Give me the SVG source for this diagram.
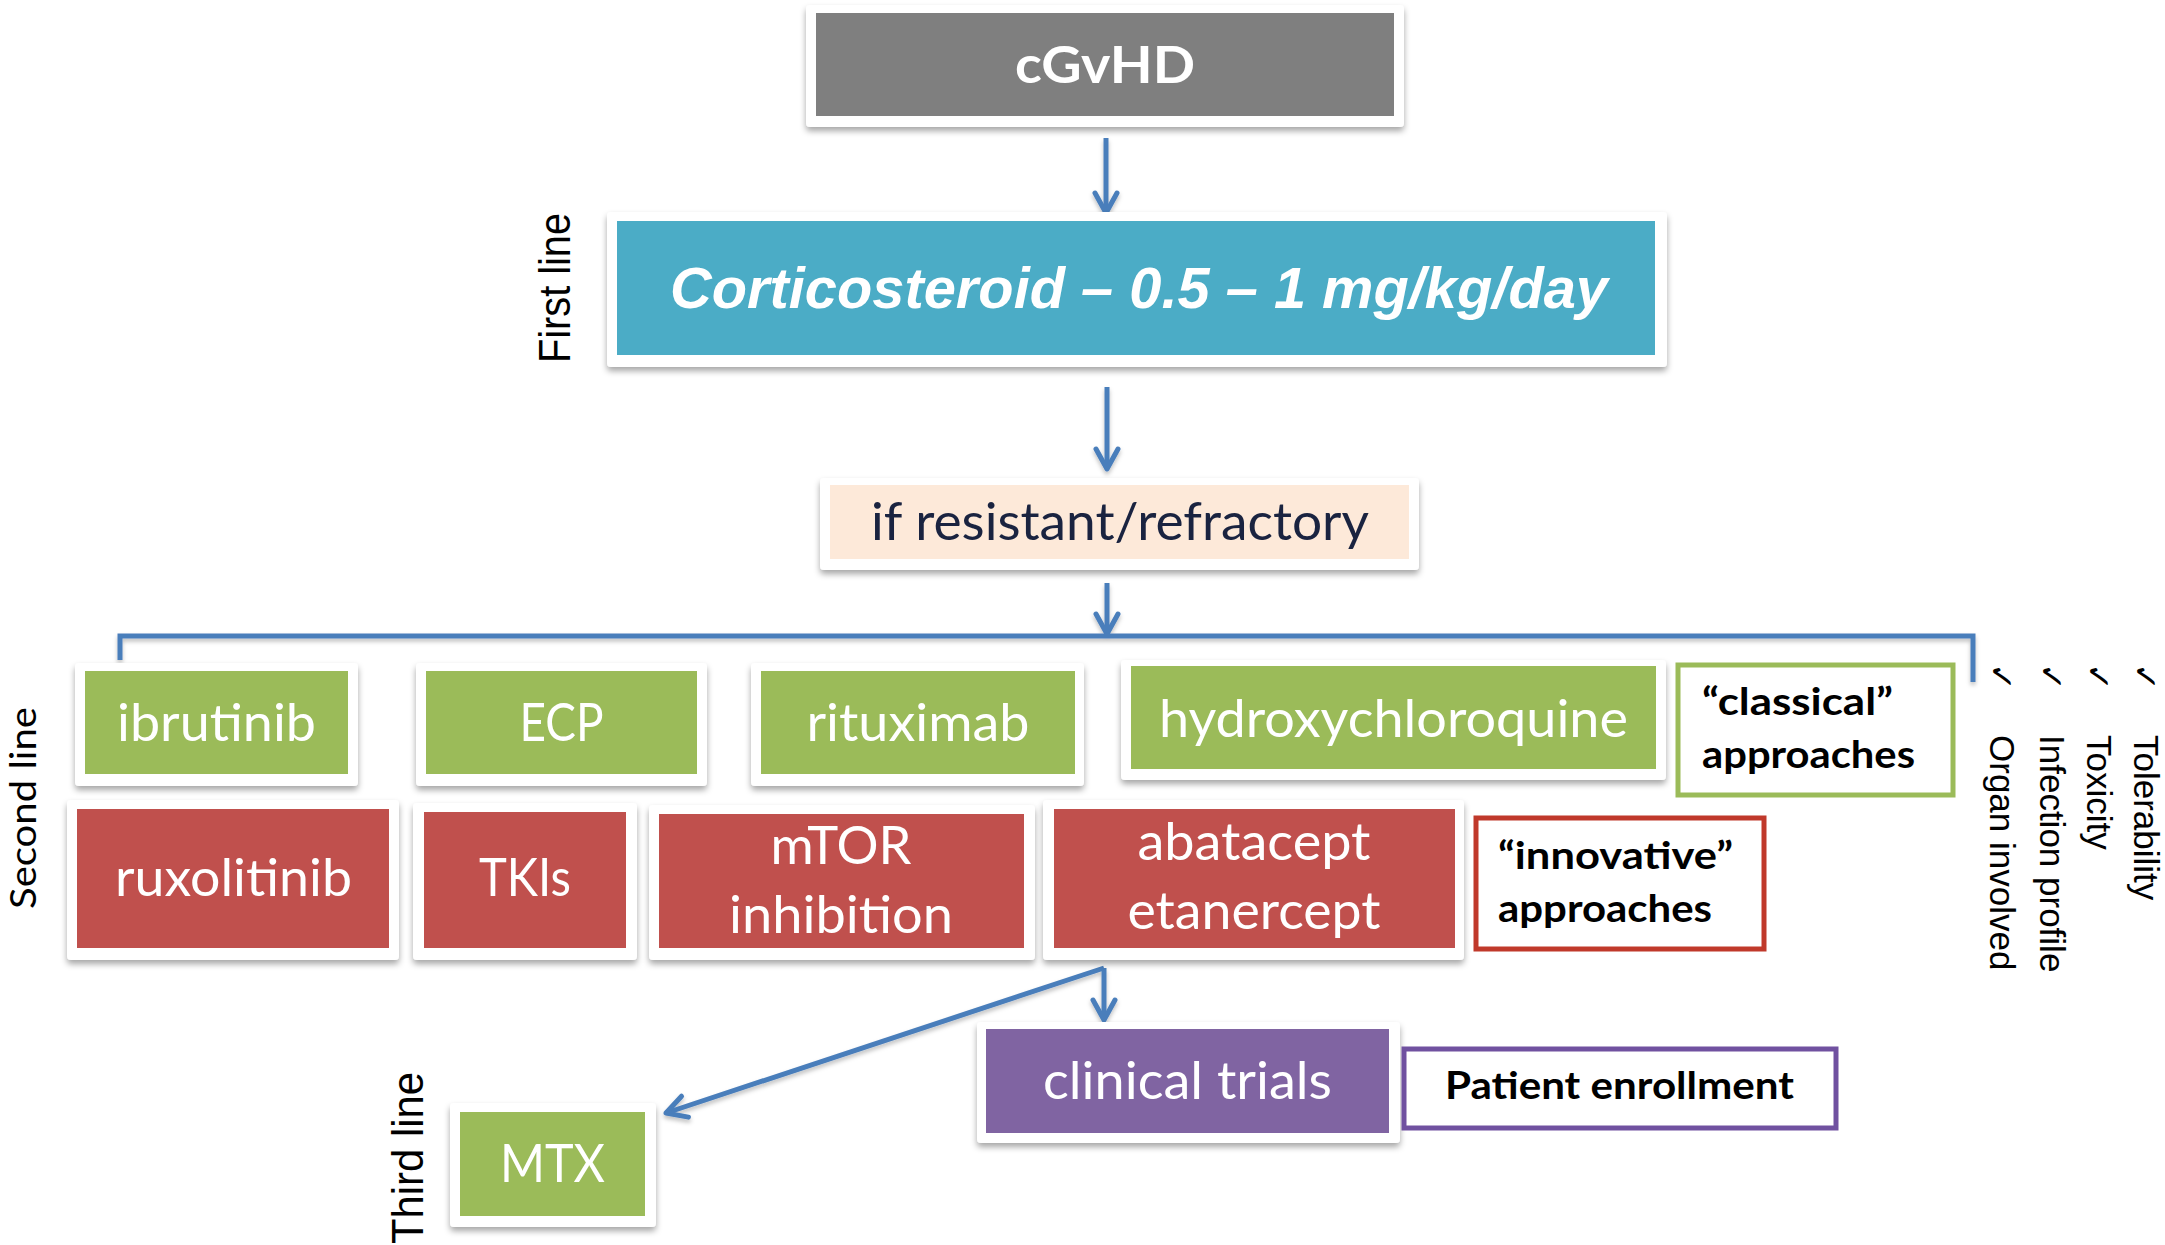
<svg xmlns="http://www.w3.org/2000/svg" width="2165" height="1245" viewBox="0 0 2165 1245">
  <defs>
    <filter id="sh" x="-5%" y="-10%" width="110%" height="130%">
      <feDropShadow dx="0" dy="4" stdDeviation="3" flood-color="#000" flood-opacity="0.35"/>
    </filter>
    <filter id="lsh" x="-5%" y="-20%" width="110%" height="160%">
      <feDropShadow dx="0" dy="3" stdDeviation="2" flood-color="#000" flood-opacity="0.25"/>
    </filter>
    <marker id="ah" markerUnits="userSpaceOnUse" viewBox="0 0 30 30" refX="27" refY="15" markerWidth="30" markerHeight="30" orient="auto">
      <path d="M7,4 L27,15 L7,26" fill="none" stroke="#4a7ebb" stroke-width="5" stroke-linecap="round" stroke-linejoin="round"/>
    </marker>
    <style>
      .card { fill: #ffffff; filter: url(#sh); }
      .gray { fill: #7f7f7f; }
      .blue { fill: #4bacc6; }
      .peach { fill: #fde9d9; }
      .green { fill: #9bbb59; }
      .red { fill: #c0504d; }
      .purple { fill: #8064a2; }
      .t { font-family: Lato, "Open Sans", "Liberation Sans", sans-serif; fill: #ffffff; text-anchor: middle; font-size: 52px; }
      .lbl { font-family: Lato, "Open Sans", "Liberation Sans", sans-serif; fill: #000000; font-weight: bold; font-size: 38px; }
      .side { font-family: "Liberation Sans", Arial, sans-serif; fill: #000000; text-anchor: middle; font-size: 44px; }
      .crit { font-family: "Liberation Sans", Arial, sans-serif; fill: #000000; font-size: 35px; }
      .chk { font-family: "DejaVu Sans", sans-serif; fill: #000000; font-size: 33px; }
      .conn { fill: none; stroke: #4a7ebb; stroke-width: 5; }
    </style>
  </defs>

  <g id="connectors" filter="url(#lsh)">
    <line class="conn" x1="1106" y1="138" x2="1106" y2="213" marker-end="url(#ah)"/>
    <line class="conn" x1="1107" y1="387" x2="1107" y2="469" marker-end="url(#ah)"/>
    <line class="conn" x1="1107" y1="583" x2="1107" y2="634" marker-end="url(#ah)"/>
    <path class="conn" d="M120,660 L120,636 L1973,636 L1973,682"/>
    <line class="conn" x1="1104" y1="968" x2="1104" y2="1020" marker-end="url(#ah)"/>
    <line class="conn" x1="1104" y1="968" x2="666" y2="1113" marker-end="url(#ah)"/>
  </g>

  <g id="node-cgvhd">
    <rect class="card" x="806" y="5" width="598" height="122" rx="4"/>
    <rect class="gray" x="816" y="13" width="578" height="103"/>
    <text class="t" x="1105" y="83" font-weight="bold" font-size="47" textLength="180" lengthAdjust="spacingAndGlyphs">cGvHD</text>
  </g>

  <g id="node-corticosteroid">
    <rect class="card" x="607" y="212" width="1060" height="155" rx="4"/>
    <rect class="blue" x="617" y="221" width="1038" height="134"/>
    <text x="1139" y="308" font-family="'Liberation Sans', Arial, sans-serif" font-weight="bold" font-style="italic" font-size="57" fill="#ffffff" text-anchor="middle" textLength="938" lengthAdjust="spacingAndGlyphs">Corticosteroid – 0.5 – 1 mg/kg/day</text>
  </g>

  <g id="label-first-line">
    <text class="side" transform="translate(570,288) rotate(-90)" x="0" y="0" textLength="150" lengthAdjust="spacingAndGlyphs">First line</text>
  </g>

  <g id="node-resistant">
    <rect class="card" x="820" y="478" width="599" height="92" rx="4"/>
    <rect class="peach" x="830" y="485" width="579" height="74"/>
    <text class="t" x="1120" y="540" style="fill:#1a2340" textLength="498" lengthAdjust="spacingAndGlyphs">if resistant/refractory</text>
  </g>

  <g id="label-second-line">
    <text x="0" y="0" transform="translate(36,808) rotate(-90)" font-family="Lato, 'Open Sans', sans-serif" font-size="36" fill="#000" text-anchor="middle" textLength="202" lengthAdjust="spacingAndGlyphs">Second line</text>
  </g>

  <g id="node-ibrutinib">
    <rect class="card" x="75" y="663" width="283" height="123" rx="4"/>
    <rect class="green" x="85" y="671" width="263" height="103"/>
    <text class="t" x="216.5" y="741" textLength="199" lengthAdjust="spacingAndGlyphs">ibrutinib</text>
  </g>
  <g id="node-ecp">
    <rect class="card" x="416" y="663" width="291" height="123" rx="4"/>
    <rect class="green" x="426" y="671" width="271" height="103"/>
    <text class="t" x="561.5" y="741" textLength="84" lengthAdjust="spacingAndGlyphs">ECP</text>
  </g>
  <g id="node-rituximab">
    <rect class="card" x="751" y="663" width="333" height="123" rx="4"/>
    <rect class="green" x="761" y="671" width="314" height="103"/>
    <text class="t" x="918" y="741" textLength="223" lengthAdjust="spacingAndGlyphs">rituximab</text>
  </g>
  <g id="node-hydroxychloroquine">
    <rect class="card" x="1121" y="660" width="545" height="120" rx="4"/>
    <rect class="green" x="1131" y="666" width="525" height="103"/>
    <text class="t" x="1393.5" y="737" textLength="469" lengthAdjust="spacingAndGlyphs">hydroxychloroquine</text>
  </g>
  <g id="node-classical">
    <rect x="1678" y="665" width="275" height="130" fill="#ffffff" stroke="#9bbb59" stroke-width="5"/>
    <text class="lbl" x="1702" y="715" textLength="191" lengthAdjust="spacingAndGlyphs">“classical”</text>
    <text class="lbl" x="1702" y="768" textLength="213" lengthAdjust="spacingAndGlyphs">approaches</text>
  </g>

  <g id="node-ruxolitinib">
    <rect class="card" x="67" y="800" width="332" height="160" rx="4"/>
    <rect class="red" x="77" y="809" width="312" height="139"/>
    <text class="t" x="233.5" y="896" textLength="237" lengthAdjust="spacingAndGlyphs">ruxolitinib</text>
  </g>
  <g id="node-tkis">
    <rect class="card" x="413" y="803" width="224" height="157" rx="4"/>
    <rect class="red" x="424" y="812" width="202" height="136"/>
    <text class="t" x="525" y="896" textLength="92" lengthAdjust="spacingAndGlyphs">TKIs</text>
  </g>
  <g id="node-mtor">
    <rect class="card" x="649" y="805" width="386" height="155" rx="4"/>
    <rect class="red" x="659" y="814" width="365" height="134"/>
    <text class="t" x="841" y="864" textLength="141" lengthAdjust="spacingAndGlyphs">mTOR</text>
    <text class="t" x="841" y="933" textLength="224" lengthAdjust="spacingAndGlyphs">inhibition</text>
  </g>
  <g id="node-abatacept">
    <rect class="card" x="1043" y="800" width="421" height="160" rx="4"/>
    <rect class="red" x="1054" y="809" width="401" height="139"/>
    <text class="t" x="1254" y="860" textLength="233" lengthAdjust="spacingAndGlyphs">abatacept</text>
    <text class="t" x="1254" y="929" textLength="253" lengthAdjust="spacingAndGlyphs">etanercept</text>
  </g>
  <g id="node-innovative">
    <rect x="1476" y="818" width="288" height="131" fill="#ffffff" stroke="#c0392b" stroke-width="5"/>
    <text class="lbl" x="1498" y="869" textLength="235" lengthAdjust="spacingAndGlyphs">“innovative”</text>
    <text class="lbl" x="1498" y="922" textLength="214" lengthAdjust="spacingAndGlyphs">approaches</text>
  </g>

  <g id="criteria">
    <g transform="translate(2134,663) rotate(90)">
      <text class="chk" x="0" y="0">✓</text>
      <text class="crit" x="72" y="0">Tolerability</text>
    </g>
    <g transform="translate(2087,663) rotate(90)">
      <text class="chk" x="0" y="0">✓</text>
      <text class="crit" x="72" y="0">Toxicity</text>
    </g>
    <g transform="translate(2040,663) rotate(90)">
      <text class="chk" x="0" y="0">✓</text>
      <text class="crit" x="72" y="0">Infection profile</text>
    </g>
    <g transform="translate(1990,663) rotate(90)">
      <text class="chk" x="0" y="0">✓</text>
      <text class="crit" x="72" y="0">Organ involved</text>
    </g>
  </g>

  <g id="node-clinical-trials">
    <rect class="card" x="977" y="1022" width="423" height="121" rx="4"/>
    <rect class="purple" x="986" y="1029" width="403" height="104"/>
    <text class="t" x="1187.5" y="1099" textLength="289" lengthAdjust="spacingAndGlyphs">clinical trials</text>
  </g>
  <g id="node-patient-enrollment">
    <rect x="1404" y="1049" width="432" height="79" fill="#ffffff" stroke="#7051a0" stroke-width="5"/>
    <text class="lbl" x="1619.5" y="1099" text-anchor="middle" font-size="40" textLength="349" lengthAdjust="spacingAndGlyphs">Patient enrollment</text>
  </g>

  <g id="node-mtx">
    <rect class="card" x="450" y="1103" width="206" height="124" rx="4"/>
    <rect class="green" x="460" y="1112" width="185" height="104"/>
    <text class="t" x="552.5" y="1182" textLength="105" lengthAdjust="spacingAndGlyphs">MTX</text>
  </g>

  <g id="label-third-line">
    <text class="side" transform="translate(423,1158) rotate(-90)" x="0" y="0" textLength="172" lengthAdjust="spacingAndGlyphs">Third line</text>
  </g>
</svg>
